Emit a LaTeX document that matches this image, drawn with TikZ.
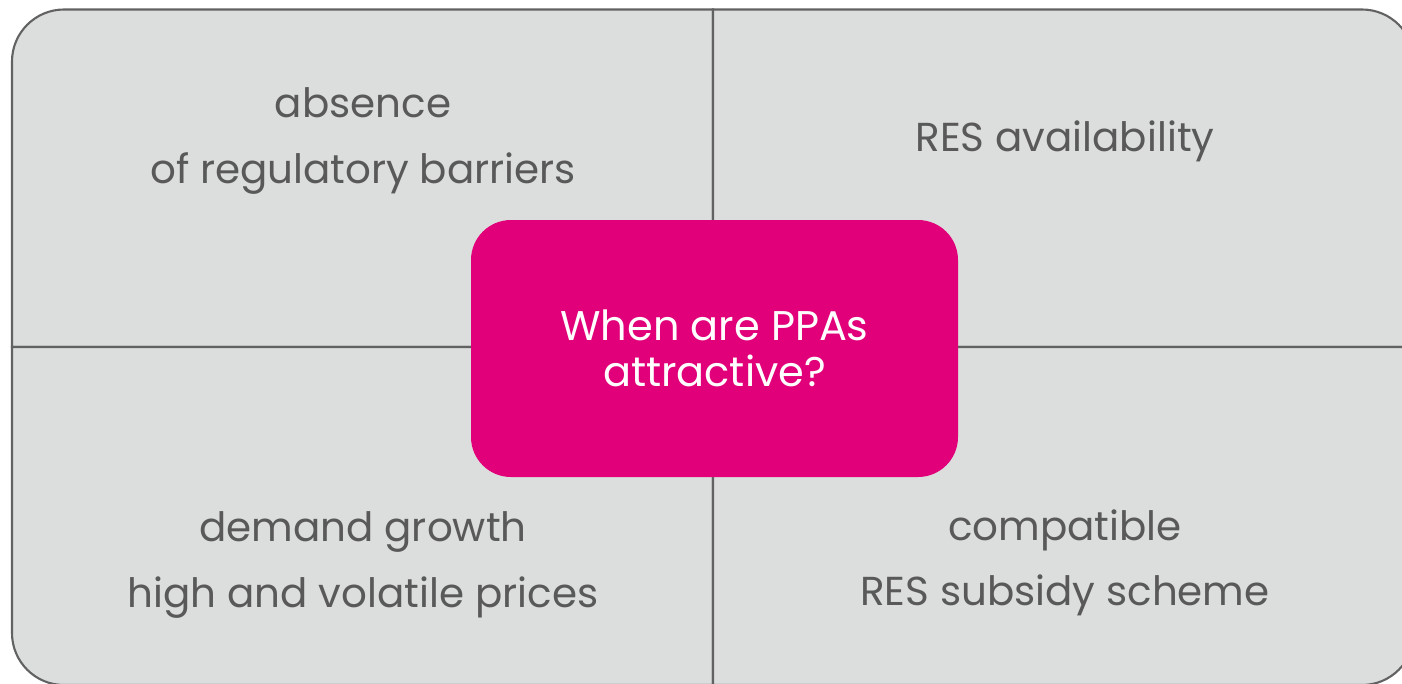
\documentclass[tikz,border=0pt]{standalone}
\usepackage{fontspec}
\setmainfont{Poppins}
\usepackage{xcolor}
\definecolor{quadfill}{RGB}{220,221,221}
\definecolor{quadline}{RGB}{98,98,98}
\definecolor{quadtext}{RGB}{89,89,89}
\definecolor{ppapink}{RGB}{225,0,122}
\tikzset{
  quad/.style={fill=quadfill, draw=quadline, line width=0.6pt},
  factor/.style={align=center, text=quadtext, font=\fontsize{11.5pt}{18.5pt}\selectfont},
  question/.style={rounded corners=4mm, fill=ppapink, text=white, align=center,
    minimum width=4.87cm, minimum height=2.57cm, font=\fontsize{11.8pt}{13.1pt}\selectfont}
}

\begin{document}
\begin{tikzpicture}

\useasboundingbox (0,0) rectangle (14.02,6.83);

% Define the four quadrants
\draw[quad] (7.13,3.36) -- (0.12,3.36) -- (0.12,6.215) arc[start angle=180, end angle=90, radius=0.52] -- (7.13,6.735) -- cycle;
\draw[quad] (7.13,3.36) -- (7.13,6.735) -- (13.62,6.735) arc[start angle=90, end angle=0, radius=0.52] -- (14.14,3.36) -- cycle;
\draw[quad] (7.13,3.36) -- (0.12,3.36) -- (0.12,0.50) arc[start angle=180, end angle=270, radius=0.52] -- (7.13,-0.02) -- cycle;
\draw[quad] (7.13,3.36) -- (14.14,3.36) -- (14.14,0.50) arc[start angle=0, end angle=-90, radius=0.52] -- (7.13,-0.02) -- cycle;

% Add the factor texts
\node[factor] (barriers) at (3.63,5.42) {absence\\ of regulatory barriers};
\node[factor] (availability) at (10.65,5.415) {RES availability};
\node[factor] (demand) at (3.63,1.18) {demand growth\\ high and volatile prices};
\node[factor] (subsidy) at (10.65,1.20) {compatible\\ RES subsidy scheme};

% Define the centre box
\node[question] (ppas) at (7.145,3.345) {When are PPAs\\ attractive?};

\end{tikzpicture}
\end{document}
